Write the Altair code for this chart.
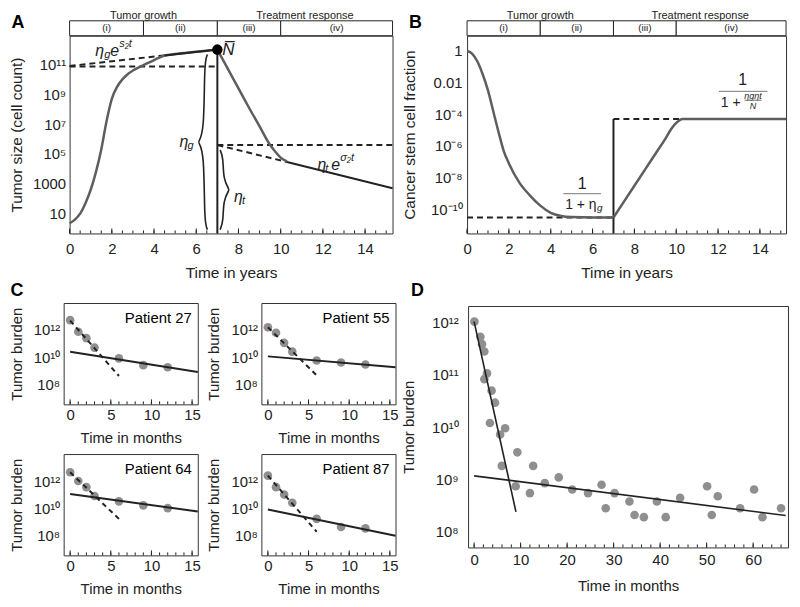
import altair as alt
import pandas as pd

FONT = "Liberation Sans"
INK = "#222222"
CURVE = "#5e5e5e"
DOT = "#8f8f8f"
FRAC = "#777777"

# ================= Panel A (log10 of cell count) =================
A_XEND = 15.3
B_XEND = 15.25
A_SECTION_EDGES = [0, 3.5, 7, 10]
A_SECTION_LABELS = ["(i)", "(ii)", "(iii)", "(iv)"]
A_PHASES = ["Tumor growth", "Treatment response"]
A_PHASE_CENTERS = [3.5, 11.15]
A_GROW_T = [0, 0.25, 0.5, 0.75, 1.0, 1.25, 1.5, 1.75, 2.0, 2.25, 2.5, 2.75, 3.0, 3.5, 4.0, 4.5, 5.0, 6.0, 7.0]
A_GROW_LOG = [0.35, 0.6, 1.0, 1.7, 2.6, 3.8, 5.3, 7.2, 8.7, 9.5, 10.0, 10.35, 10.6, 10.95, 11.3, 11.6, 11.7, 11.85, 12.0]
A_TREAT_T = [7.0, 7.5, 8.0, 8.5, 9.0, 9.5, 9.75, 10.0, 10.3]
A_TREAT_LOG = [12.0, 10.7, 9.4, 8.1, 6.85, 5.6, 5.15, 4.75, 4.5]
A_SG_T = [0, 4.5, 7.0]
A_SG_LOG = [10.9, 11.61, 12.0]
A_PLATEAU_G = 10.87
A_SIGMA_T = [7.0, 10.3, 15.3]
A_SIGMA_LOG = [5.6, 4.46, 2.7]
A_SWITCH = 7.0
A_NBAR = 12.0
A_YEXP = [1, 3, 5, 7, 9, 11]
A_YLAB = ["10", "1000", "10⁵", "10⁷", "10⁹", "10¹¹"]
A_XTICKS = [0, 2, 4, 6, 8, 10, 12, 14]

# ================= Panel B (log10 of stem cell fraction) =================
B_GROW_T = [0, 0.25, 0.5, 0.75, 1.0, 1.25, 1.5, 1.75, 2.0, 2.5, 3.0, 3.5, 4.0, 4.5, 5.0, 6.0, 7.0]
B_GROW_LOG = [-0.02, -0.2, -0.7, -1.5, -2.5, -3.8, -5.1, -6.3, -7.1, -8.3, -9.1, -9.75, -10.2, -10.4, -10.47, -10.5, -10.5]
B_TREAT_T = [7.0, 7.5, 8.0, 8.5, 9.0, 9.5, 9.75, 10.0, 10.3, 15.25]
B_TREAT_LOG = [-10.5, -9.5, -8.5, -7.5, -6.5, -5.5, -4.95, -4.55, -4.3, -4.3]
B_FLOOR = -10.5
B_CEIL = -4.3
B_YEXP = [0, -2, -4, -6, -8, -10]
B_YLAB = ["1", "0.01", "10⁻⁴", "10⁻⁶", "10⁻⁸", "10⁻¹⁰"]

# ================= Panel C (log10 tumor burden) =================
C_MONTHS = [0, 1, 2, 3, 6, 9, 12]
C_PATIENTS = ["Patient 27", "Patient 55", "Patient 64", "Patient 87"]
C_VALUES = [
    [12.73, 11.87, 11.4, 10.7, 9.9, 9.4, 9.25],
    [12.2, 11.8, 11.05, 10.4, 9.75, 9.6, 9.45],
    [12.65, 12.0, 11.55, 10.9, 10.5, 10.2, 10.0],
    [12.4, 11.55, 11.0, 10.4, 9.2, 8.6, 8.5],
]
C_SOLID_T = [0, 15.7]
C_SOLID = [[10.4, 8.9], [10.05, 9.25], [11.05, 9.75], [9.9, 7.95]]
C_DASH_T = [0, 6]
C_DASH = [[12.7, 8.6], [12.2, 8.65], [12.65, 9.2], [12.4, 8.25]]
C_YEXP = [8, 10, 12]
C_YLAB = ["10⁸", "10¹⁰", "10¹²"]

# ================= Panel D (log10 tumor burden) =================
D_T = [0.07, 1.35, 1.7, 2.2, 2.77, 2.2, 3.76, 4.5, 3.4, 5.6, 6.67, 9.3, 5.96, 12.7, 8.94, 12.0,
       15.2, 18.2, 21.1, 24.5, 27.4, 28.3, 30.2, 33.4, 34.5, 36.5, 39.3, 41.2, 44.3, 50.1, 51.1,
       52.4, 57.2, 60.2, 62.0, 66.0]
D_LOG = [12.02, 11.73, 11.59, 11.45, 11.03, 10.92, 10.70, 10.47, 10.08, 9.86, 9.98, 9.52, 9.26,
         9.26, 8.87, 8.74, 8.93, 9.04, 8.81, 8.74, 8.90, 8.45, 8.74, 8.58, 8.32, 8.28, 8.58, 8.28,
         8.65, 8.87, 8.32, 8.68, 8.45, 8.81, 8.28, 8.45]
D_STEEP_T = [0, 9]
D_STEEP = [12.02, 8.38]
D_SHALLOW_T = [0, 67]
D_SHALLOW = [9.07, 8.31]
D_YEXP = [8, 9, 10, 11, 12]
D_YLAB = ["10⁸", "10⁹", "10¹⁰", "10¹¹", "10¹²"]


def label_expr(exps, labels):
    parts = "".join(
        f"abs(log(datum.value)/LN10 - ({e})) < 0.1 ? '{l}' : " for e, l in zip(exps, labels)
    )
    return parts + "''"


class Panel:
    def __init__(self, xdom, ylog, w, h, xaxis, yaxis):
        self.xs = alt.Scale(domain=xdom, nice=False, zero=False)
        self.ys = alt.Scale(type="log", domain=[10 ** ylog[0], 10 ** ylog[1]], nice=False)
        self.w, self.h = w, h
        self.xaxis, self.yaxis = xaxis, yaxis
        self.layers = []

    def X(self, f="x"):
        return alt.X(f, type="quantitative", scale=self.xs, axis=self.xaxis)

    def Y(self, f="y"):
        return alt.Y(f, type="quantitative", scale=self.ys, axis=self.yaxis)

    def line(self, xs, logs, color=INK, width=2.0, dash=None, interp="linear"):
        df = pd.DataFrame({"x": xs, "y": [10 ** v for v in logs], "o": list(range(len(xs)))})
        kw = dict(color=color, strokeWidth=width, interpolate=interp)
        if dash:
            kw["strokeDash"] = dash
        self.layers.append(
            alt.Chart(df).mark_line(**kw).encode(x=self.X(), y=self.Y(), order="o:Q")
        )

    def points(self, xs, logs, size=70, color=DOT):
        df = pd.DataFrame({"x": xs, "y": [10 ** v for v in logs]})
        self.layers.append(
            alt.Chart(df).mark_circle(size=size, color=color, opacity=1).encode(x=self.X(), y=self.Y())
        )

    def text(self, x, ylog, s, size=15, dx=0, dy=0, italic=False, align="left", color=INK):
        df = pd.DataFrame({"x": [x], "y": [10 ** ylog], "s": [s]})
        kw = dict(fontSize=size, dx=dx, dy=dy, align=align, baseline="middle", color=color, font=FONT)
        if italic:
            kw["fontStyle"] = "italic"
        self.layers.append(
            alt.Chart(df).mark_text(**kw).encode(x=self.X(), y=self.Y(), text="s:N")
        )

    def hbar(self, x1, x2, ylog, color=FRAC, width=1):
        df = pd.DataFrame({"x": [x1], "x2": [x2], "y": [10 ** ylog]})
        self.layers.append(
            alt.Chart(df).mark_rule(color=color, strokeWidth=width).encode(
                x=self.X(), x2="x2:Q", y=self.Y()
            )
        )

    def vline_from_bottom(self, x, ylog, color=INK, width=2):
        df = pd.DataFrame({"x": [x], "y": [10 ** ylog]})
        self.layers.append(
            alt.Chart(df).mark_rule(color=color, strokeWidth=width).encode(
                x=self.X(), y=self.Y(), y2=alt.value(self.h)
            )
        )

    def inner_ticks(self, positions, length):
        df = pd.DataFrame({"x": positions})
        self.layers.append(
            alt.Chart(df).mark_rule(color=INK, strokeWidth=1).encode(
                x=self.X(), y=alt.value(self.h), y2=alt.value(self.h - length)
            )
        )

    def letter(self, s, px, py):
        df = pd.DataFrame({"s": [s]})
        self.layers.append(
            alt.Chart(df).mark_text(fontSize=18, fontWeight="bold", font=FONT, color="black").encode(
                x=alt.value(px), y=alt.value(py), text="s:N"
            )
        )

    def header(self, sections, labels, phases, centers):
        df = pd.DataFrame({"x": sections[:-1], "x2": sections[1:], "lab": labels,
                           "xm": [(a + b) / 2 for a, b in zip(sections[:-1], sections[1:])]})
        self.layers.append(
            alt.Chart(df).mark_rect(fill="white", stroke=INK, strokeWidth=1).encode(
                x=self.X(), x2="x2:Q", y=alt.value(-15), y2=alt.value(0)
            )
        )
        self.layers.append(
            alt.Chart(df).mark_text(fontSize=10, font=FONT, color=INK).encode(
                x=self.X("xm"), y=alt.value(-7.5), text="lab:N"
            )
        )
        dp = pd.DataFrame({"x": centers, "s": phases})
        self.layers.append(
            alt.Chart(dp).mark_text(fontSize=11, font=FONT, color=INK).encode(
                x=self.X(), y=alt.value(-19.5), text="s:N"
            )
        )

    def chart(self):
        return alt.layer(*self.layers).properties(width=self.w, height=self.h)


def brace(p, xv, xtip, top, bot, curl):
    mid = (top + bot) / 2
    xs = [xv + curl, xv, xv, xtip, xtip, xv, xv, xv + curl]
    ys = [top, top - 0.5, mid + 0.7, mid, mid, mid - 0.7, bot + 0.5, bot]
    p.line(xs, ys, color=INK, width=1.6, interp="basis")


def half_ticks(lo, hi, step):
    out, v = [], lo
    while v <= hi + 1e-9:
        out.append(round(v, 3))
        v += step
    return out


def spacer(w, h):
    return (
        alt.Chart(pd.DataFrame({"a": [0]}))
        .mark_point(opacity=0)
        .encode(x=alt.value(0), y=alt.value(0))
        .properties(width=w, height=h, view=alt.ViewBackground(stroke="transparent"))
    )


# ---------------- Panel A ----------------
axA_x = alt.Axis(title="Time in years", values=A_XTICKS, format="d", labelPadding=8, titlePadding=9,
                 labelFontSize=15, titleFontSize=15.5)
axA_y = alt.Axis(title="Tumor size (cell count)", values=[10 ** e for e in A_YEXP],
                 labelExpr=label_expr(A_YEXP, A_YLAB), labelPadding=4, titlePadding=8,
                 labelFontSize=15, titleFontSize=15.5)
A = Panel([0, A_XEND], [-0.33, 12.93], 325, 199, axA_x, axA_y)
A.header(A_SECTION_EDGES + [A_XEND], A_SECTION_LABELS, A_PHASES, A_PHASE_CENTERS)
A.inner_ticks(half_ticks(0, 15, 0.5), 3)
A.inner_ticks(A_XTICKS, 5)
A.line([A_SG_T[0], A_SG_T[1]], [A_SG_LOG[0], A_SG_LOG[1]], dash=[6, 4])
A.line([0, A_SWITCH], [A_PLATEAU_G, A_PLATEAU_G], dash=[6, 4])
A.line([A_SWITCH, A_XEND], [A_SIGMA_LOG[0], A_SIGMA_LOG[0]], dash=[6, 4])
A.line([A_SIGMA_T[0], A_SIGMA_T[1]], [A_SIGMA_LOG[0], A_SIGMA_LOG[1]], dash=[6, 4])
A.line(A_GROW_T, A_GROW_LOG, color=CURVE, width=2.5, interp="monotone")
A.line(A_TREAT_T, A_TREAT_LOG, color=CURVE, width=2.5, interp="monotone")
A.line([A_SG_T[1], A_SG_T[2]], [A_SG_LOG[1], A_SG_LOG[2]], width=2)
A.line([A_SIGMA_T[1], A_SIGMA_T[2]], [A_SIGMA_LOG[1], A_SIGMA_LOG[2]], width=2)
A.vline_from_bottom(A_SWITCH, A_NBAR)
brace(A, 6.38, 6.1, 11.67, -0.07, 0.15)
brace(A, 7.28, 7.56, 5.27, -0.07, -0.15)
A.points([A_SWITCH], [A_NBAR], size=110, color="black")
A.text(7.23, 12.0, "N\u0305", size=17, italic=True)
A.text(1.22, 11.93, "η", size=16, italic=True)
A.text(1.22, 11.93, "g", size=11, dx=9, dy=4, italic=True)
A.text(1.22, 11.93, "e", size=16, dx=15, italic=True)
A.text(1.22, 11.93, "s₂t", size=11, dx=24, dy=-7, italic=True)
A.text(5.21, 5.8, "η", size=16, italic=True)
A.text(5.21, 5.8, "g", size=11, dx=8, dy=4, italic=True)
A.text(7.79, 2.13, "η", size=16, italic=True)
A.text(7.79, 2.13, "t", size=11, dx=8, dy=4, italic=True)
A.text(11.74, 4.27, "η", size=16, italic=True)
A.text(11.74, 4.27, "t", size=11, dx=8, dy=4, italic=True)
A.text(11.74, 4.27, "e", size=16, dx=14, italic=True)
A.text(11.74, 4.27, "σ₂t", size=11, dx=23, dy=-7, italic=True)
A.letter("A", -52, -13)

# ---------------- Panel B ----------------
axB_x = alt.Axis(title="Time in years", values=A_XTICKS, format="d", labelPadding=8, titlePadding=9,
                 labelFontSize=15, titleFontSize=15.5)
axB_y = alt.Axis(title="Cancer stem cell fraction", values=[10 ** e for e in B_YEXP],
                 labelExpr=label_expr(B_YEXP, B_YLAB), labelPadding=5, titlePadding=13,
                 labelFontSize=15, titleFontSize=15.5)
B = Panel([0, B_XEND], [-11.5, 0.94], 321, 199, axB_x, axB_y)
B.header(A_SECTION_EDGES + [B_XEND], A_SECTION_LABELS, A_PHASES, A_PHASE_CENTERS)
B.inner_ticks(half_ticks(0, 15, 0.5), 3)
B.inner_ticks(A_XTICKS, 5)
B.line([0, A_SWITCH], [B_FLOOR, B_FLOOR], dash=[6, 4])
B.line([A_SWITCH, B_XEND], [B_CEIL, B_CEIL], dash=[6, 4])
B.vline_from_bottom(A_SWITCH, B_CEIL)
B.line(B_GROW_T, B_GROW_LOG, color=CURVE, width=2.5, interp="monotone")
B.line(B_TREAT_T, B_TREAT_LOG, color=CURVE, width=2.5, interp="monotone")
B.text(13.18, -1.875, "1", size=16, align="center")
B.hbar(12.04, 14.36, -2.56)
B.text(12.13, -3.31, "1 +", size=14)
B.text(13.67, -2.87, "ηgηt", size=9, italic=True, align="center")
B.hbar(13.27, 14.08, -3.12)
B.text(13.67, -3.5, "N", size=9, italic=True, align="center")
B.text(5.5, -8.375, "1", size=16, align="center")
B.hbar(4.6, 6.4, -9.0)
B.text(4.69, -9.69, "1 + η", size=14, italic=False)
B.text(4.69, -9.69, "g", size=10, dx=32, dy=3, italic=True)
B.letter("B", -52, -13)

# ---------------- Panel C ----------------
C_XTICKS = [0, 5, 10, 15]


def c_panel(i, letter=None):
    ax_x = alt.Axis(title="Time in months", values=C_XTICKS, format="d", labelPadding=3, titlePadding=8,
                    labelFontSize=15)
    ax_y = alt.Axis(title="Tumor burden", values=[10 ** e for e in C_YEXP],
                    labelExpr=label_expr(C_YEXP, C_YLAB), labelPadding=4, titlePadding=9, labelFontSize=15)
    p = Panel([-0.8, 15.7], [6.5, 14.0], 135, 102, ax_x, ax_y)
    p.inner_ticks(list(range(0, 16)), 3)
    p.inner_ticks(C_XTICKS, 5)
    p.points(C_MONTHS, C_VALUES[i], size=75)
    p.line(C_SOLID_T, C_SOLID[i], width=2)
    p.line(C_DASH_T, C_DASH[i], width=2, dash=[5, 4])
    df = pd.DataFrame({"s": [C_PATIENTS[i]]})
    p.layers.append(
        alt.Chart(df).mark_text(fontSize=15, font=FONT, color="black", align="right").encode(
            x=alt.value(129), y=alt.value(15), text="s:N"
        )
    )
    if letter:
        p.letter(letter, -47, -12)
    return p.chart()


C27 = c_panel(0, "C")
C55 = c_panel(1)
C64 = c_panel(2)
C87 = c_panel(3)

# ---------------- Panel D ----------------
D_XTICKS = [0, 10, 20, 30, 40, 50, 60]
axD_x = alt.Axis(title="Time in months", values=D_XTICKS, format="d", labelPadding=5, titlePadding=11,
                 labelFontSize=15)
axD_y = alt.Axis(title="Tumor burden", values=[10 ** e for e in D_YEXP],
                 labelExpr=label_expr(D_YEXP, D_YLAB), labelPadding=10, titlePadding=15, labelFontSize=15)
D = Panel([-1.3, 67.5], [7.7, 12.32], 322, 243, axD_x, axD_y)
D.inner_ticks(list(range(0, 68, 2)), 3)
D.inner_ticks(D_XTICKS, 5)
D.points(D_T, D_LOG, size=75)
D.line(D_STEEP_T, D_STEEP, width=1.6)
D.line(D_SHALLOW_T, D_SHALLOW, width=1.6)
D.letter("D", -51, -15)

row1 = alt.hconcat(spacer(6, 1), A.chart(), spacer(75, 1), B.chart(), spacing=0, bounds="flush")
crow1 = alt.hconcat(C27, C55, spacing=64, bounds="flush")
crow2 = alt.hconcat(C64, C87, spacing=64, bounds="flush")
cgrid = alt.vconcat(crow1, crow2, spacing=7)
dcol = alt.vconcat(spacer(1, 3), D.chart(), spacing=0, bounds="flush")
row2 = alt.hconcat(cgrid, dcol, spacing=0)

chart = (
    alt.vconcat(row1, row2, spacing=0)
    .properties(padding={"left": 0, "top": 0, "right": 0, "bottom": 0})
    .configure_view(stroke="#333333", strokeWidth=1)
    .configure_axis(
        labelFont=FONT, titleFont=FONT, labelColor=INK, titleColor=INK, titleFontSize=15,
        titleFontWeight="normal", domain=False, ticks=False, grid=False, labelFlush=False,
        labelOverlap=False,
    )
    .configure_text(font=FONT)
)

chart.save("out.html", embed_options={"renderer": "svg", "actions": False})
